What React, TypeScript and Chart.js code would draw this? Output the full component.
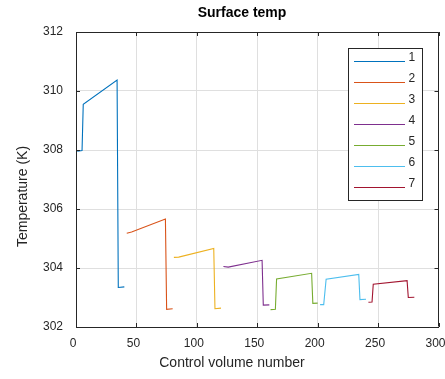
import React, { useEffect, useRef } from "react";
import { Chart, registerables } from "chart.js";

Chart.register(...registerables);

// ---- data ----
const seriesNames = ["1", "2", "3", "4", "5", "6", "7"];
const seriesColors = ["#0072BD", "#D95319", "#EDB120", "#7E2F8E", "#77AC30", "#4DBEEE", "#A2142F"];

const cv1 = [1, 5, 6, 34, 35, 40];
const temp1 = [307.96, 307.98, 309.55, 310.37, 303.34, 303.36];
const cv2 = [42, 46, 74, 75, 80];
const temp2 = [305.18, 305.22, 305.66, 302.6, 302.62];
const cv3 = [81, 85, 114, 115, 120];
const temp3 = [304.36, 304.37, 304.66, 302.62, 302.64];
const cv4 = [122, 126, 154, 155, 160];
const temp4 = [304.05, 304.03, 304.26, 302.74, 302.75];
const cv5 = [161, 165, 166, 195, 196, 200];
const temp5 = [302.59, 302.6, 303.63, 303.82, 302.8, 302.81];
const cv6 = [202, 205, 207, 234, 235, 240];
const temp6 = [302.76, 302.76, 303.62, 303.78, 302.93, 302.94];
const cv7 = [242, 245, 246, 274, 275, 280];
const temp7 = [302.84, 302.85, 303.45, 303.57, 303.0, 303.01];

const xTicks = [0, 50, 100, 150, 200, 250, 300];
const yTicks = [302, 304, 306, 308, 310, 312];

const titleText = "Surface temp";
const xLabel = "Control volume number";
const yLabel = "Temperature (K)";

const allCv = [cv1, cv2, cv3, cv4, cv5, cv6, cv7];
const allTemp = [temp1, temp2, temp3, temp4, temp5, temp6, temp7];

const AXIS = "#262626";
const GRID = "#dfdfdf";
const FONT = "'Liberation Sans', Arial, Helvetica, sans-serif";

const framePlugin = {
  id: "matlabFrame",
  afterDraw(chart: any) {
    const ctx = chart.ctx as CanvasRenderingContext2D;
    const { left, right, top, bottom } = chart.chartArea;
    const xs = chart.scales.x;
    const ys = chart.scales.y;
    ctx.save();
    ctx.strokeStyle = AXIS;
    ctx.lineWidth = 1;
    // box
    ctx.beginPath();
    ctx.moveTo(Math.round(left) + 0.5, Math.round(top) + 0.5);
    ctx.lineTo(Math.round(right) - 0.5, Math.round(top) + 0.5);
    ctx.lineTo(Math.round(right) - 0.5, Math.round(bottom) - 0.5);
    ctx.stroke();
    // inward ticks
    const tl = 4;
    ctx.beginPath();
    xTicks.forEach((v) => {
      const px = Math.round(xs.getPixelForValue(v)) + 0.5;
      ctx.moveTo(px, bottom);
      ctx.lineTo(px, bottom - tl);
      ctx.moveTo(px, top);
      ctx.lineTo(px, top + tl);
    });
    yTicks.forEach((v) => {
      const py = Math.round(ys.getPixelForValue(v)) + 0.5;
      ctx.moveTo(left, py);
      ctx.lineTo(left + tl, py);
      ctx.moveTo(right, py);
      ctx.lineTo(right - tl, py);
    });
    ctx.stroke();

    // title & labels
    ctx.fillStyle = "#000000";
    ctx.textAlign = "center";
    ctx.textBaseline = "middle";
    ctx.font = `bold 14px ${FONT}`;
    ctx.fillText(titleText, 242, 13);
    ctx.fillStyle = AXIS;
    ctx.font = `14px ${FONT}`;
    ctx.fillText(xLabel, 232, 363);
    ctx.save();
    ctx.translate(23, 196.5);
    ctx.rotate(-Math.PI / 2);
    ctx.fillText(yLabel, 0, 0);
    ctx.restore();

    // legend
    const lx0 = 348.5, ly0 = 48.5, lx1 = 422.5, ly1 = 200.5;
    ctx.fillStyle = "#ffffff";
    ctx.fillRect(lx0, ly0, lx1 - lx0, ly1 - ly0);
    ctx.strokeStyle = AXIS;
    ctx.strokeRect(lx0, ly0, lx1 - lx0, ly1 - ly0);
    ctx.font = `12px ${FONT}`;
    ctx.textAlign = "left";
    seriesNames.forEach((name, i) => {
      const y = 61.5 + 21 * i;
      ctx.strokeStyle = seriesColors[i];
      ctx.lineWidth = 1.2;
      ctx.beginPath();
      ctx.moveTo(354, y);
      ctx.lineTo(405, y);
      ctx.stroke();
      ctx.fillStyle = AXIS;
      ctx.fillText(name, 408.5, y - 3.5);
    });
    ctx.restore();
  },
};

export default function App() {
  const ref = useRef<HTMLCanvasElement | null>(null);
  useEffect(() => {
    if (!ref.current) return;
    const datasets = seriesNames.map((name, i) => ({
      label: name,
      data: allCv[i].map((x, j) => ({ x, y: allTemp[i][j] })),
      borderColor: seriesColors[i],
      backgroundColor: seriesColors[i],
      borderWidth: 1.1,
      pointRadius: 0,
      tension: 0,
      fill: false,
    }));
    const chart = new Chart(ref.current, {
      type: "line",
      data: { datasets },
      options: {
        animation: false,
        responsive: false,
        devicePixelRatio: 1,
        layout: { padding: { top: 32, right: 6.5, left: 0, bottom: 0 } },
        plugins: { legend: { display: false }, title: { display: false }, tooltip: { enabled: false } },
        scales: {
          x: {
            type: "linear",
            min: 0,
            max: 300,
            afterBuildTicks: (s: any) => {
              s.ticks = xTicks.map((v) => ({ value: v }));
            },
            afterFit: (s: any) => {
              s.height = 52;
              s.paddingLeft = 0;
              s.paddingRight = 0;
            },
            ticks: { color: AXIS, font: { size: 12, family: FONT }, padding: 9, maxRotation: 0, autoSkip: false, labelOffset: -3 },
            grid: { color: GRID, drawTicks: false, lineWidth: 1 },
            border: { display: true, color: AXIS, width: 1 },
          },
          y: {
            type: "linear",
            min: 302,
            max: 312,
            afterBuildTicks: (s: any) => {
              s.ticks = yTicks.map((v) => ({ value: v }));
            },
            afterFit: (s: any) => {
              s.width = 76;
              s.paddingTop = 0;
              s.paddingBottom = 0;
            },
            ticks: { color: AXIS, font: { size: 12, family: FONT }, padding: 13 },
            grid: { color: GRID, drawTicks: false, lineWidth: 1 },
            border: { display: true, color: AXIS, width: 1 },
          },
        },
      },
      plugins: [framePlugin],
    });
    return () => chart.destroy();
  }, []);
  return (
    <div style={{ position: "absolute", left: 0, top: 0, width: 445, height: 379, background: "#ffffff" }}>
      <canvas ref={ref} width={445} height={379} style={{ width: 445, height: 379, display: "block" }} />
    </div>
  );
}
